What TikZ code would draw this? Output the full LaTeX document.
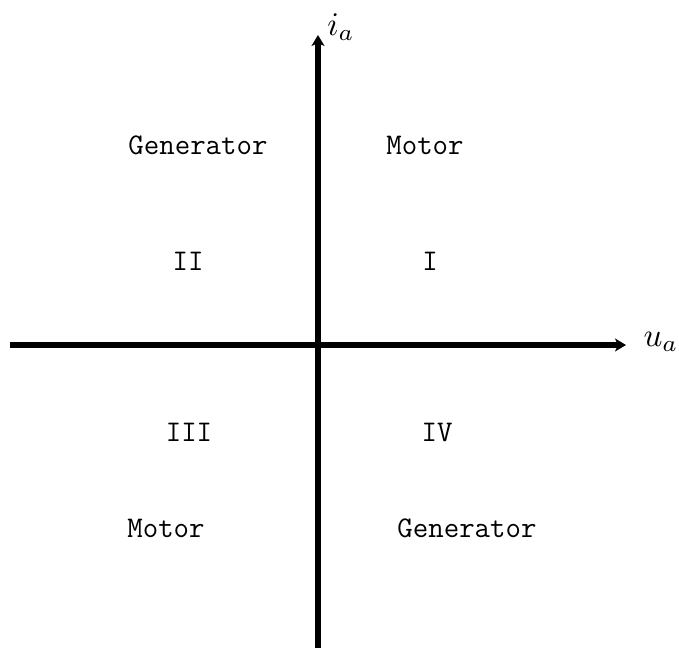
\documentclass[tikz,border=0pt]{standalone}
\usetikzlibrary{arrows.meta}
\begin{document}
\begin{tikzpicture}[x=1pt,y=-1pt,
  axis/.style={line width=6pt,-{Stealth[length=11pt,width=13pt,inset=3pt]}},
  lbl/.style={font=\fontsize{30}{36}\selectfont\ttfamily,inner sep=0pt},
  mlbl/.style={font=\normalsize,inner sep=0pt,scale=3.3}]
\useasboundingbox (0,0) rectangle (679,648);
\coordinate (xs) at (10,345);
\coordinate (xe) at (626,345);
\coordinate (ys) at (318,648);
\coordinate (ye) at (318,35);
\draw[axis] (xs) -- (xe);
\draw[axis] (ys) -- (ye);
\node[mlbl] (ua) at (661,342) {$u_a$};
\node[mlbl] (ia) at (341,27) {$i_a$};
\node[lbl] (g1) at (198,145) {Generator};
\node[lbl] (m1) at (425,145) {Motor};
\node[lbl] (q2) at (188,261) {II};
\node[lbl] (q1) at (430,261) {I};
\node[lbl] (q3) at (189,432) {III};
\node[lbl] (q4) at (437,432) {IV};
\node[lbl] (m2) at (166,528) {Motor};
\node[lbl] (g2) at (467,528) {Generator};
\end{tikzpicture}
\end{document}
